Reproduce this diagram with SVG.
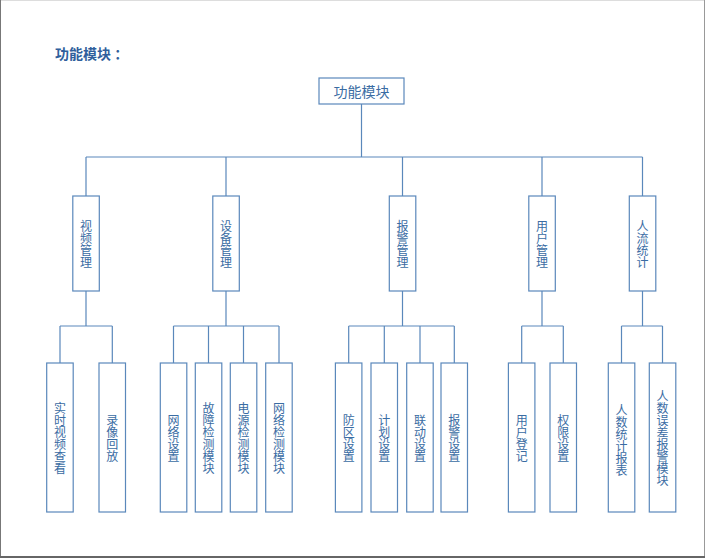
<svg xmlns="http://www.w3.org/2000/svg" width="705" height="558" viewBox="0 0 705 558">
<style>
.box{fill:#fff;stroke:#5a88bb;stroke-width:1.2}
.ln{fill:none;stroke:#5a88bb;stroke-width:1.2}
.t{font-family:"Noto Sans CJK SC","Noto Sans",sans-serif;font-size:12px;fill:#3a6ca3;text-anchor:middle;writing-mode:vertical-rl}
.top{font-family:"Noto Sans CJK SC","Noto Sans",sans-serif;font-size:14px;fill:#3a6ca3;text-anchor:middle;dominant-baseline:central}
.title{font-family:"Noto Sans CJK SC","Noto Sans",sans-serif;font-size:14px;font-weight:bold;fill:#2f5f9c}
</style>
<rect x="0" y="0" width="705" height="558" fill="#fff"/>
<line x1="0" y1="0.5" x2="705" y2="0.5" stroke="#ddd"/>
<line x1="0.5" y1="0" x2="0.5" y2="558" stroke="#777"/>
<line x1="704.5" y1="0" x2="704.5" y2="558" stroke="#999"/>
<line x1="0" y1="557" x2="705" y2="557" stroke="#666" stroke-width="2"/>
<text class="title" x="55" y="59">功能模块 ：</text>

<g id="connectors" class="ln">
<path d="M361.5 104V157M86 157H642.5M86 157V196M226 157V196M402.5 157V196M542 157V196M642.5 157V196"/>
<path d="M86 291V326M60 326H112.3M60 326V363M112.3 326V363"/>
<path d="M226 291V326M173.5 326H279M173.5 326V363M208.5 326V363M243.5 326V363M279 326V363"/>
<path d="M402.5 291V326M348.7 326H454.3M348.7 326V363M384.3 326V363M420 326V363M454.3 326V363"/>
<path d="M542 291V326M521.7 326H563.3M521.7 326V363M563.3 326V363"/>
<path d="M642.5 291V326M621.5 326H662.5M621.5 326V363M662.5 326V363"/>
</g>

<g id="root"><rect class="box" x="319" y="78" width="85" height="26"/><text class="top" x="361.5" y="91">功能模块</text></g>

<g id="m1"><rect class="box" x="72.8" y="196" width="26.5" height="95"/><text class="t" x="86" y="244">视频管理</text></g>
<g id="m2"><rect class="box" x="212.8" y="196" width="26.5" height="95"/><text class="t" x="226" y="244">设备管理</text></g>
<g id="m3"><rect class="box" x="389.3" y="196" width="26.5" height="95"/><text class="t" x="402.5" y="244">报警管理</text></g>
<g id="m4"><rect class="box" x="528.8" y="196" width="26.5" height="95"/><text class="t" x="542" y="244">用户管理</text></g>
<g id="m5"><rect class="box" x="629.3" y="196" width="26.5" height="95"/><text class="t" x="642.5" y="244">人流统计</text></g>

<g id="b1"><rect class="box" x="46.7" y="363" width="26.5" height="149"/><text class="t" x="60" y="438">实时视频查看</text></g>
<g id="b2"><rect class="box" x="99" y="363" width="26.5" height="149"/><text class="t" x="112.3" y="438">录像回放</text></g>
<g id="b3"><rect class="box" x="160.3" y="363" width="26.5" height="149"/><text class="t" x="173.5" y="438">网络设置</text></g>
<g id="b4"><rect class="box" x="195.3" y="363" width="26.5" height="149"/><text class="t" x="208.5" y="438">故障检测模块</text></g>
<g id="b5"><rect class="box" x="230.3" y="363" width="26.5" height="149"/><text class="t" x="243.5" y="438">电源检测模块</text></g>
<g id="b6"><rect class="box" x="265.7" y="363" width="26.5" height="149"/><text class="t" x="279" y="438">网络检测模块</text></g>
<g id="b7"><rect class="box" x="335.4" y="363" width="26.5" height="149"/><text class="t" x="348.7" y="438">防区设置</text></g>
<g id="b8"><rect class="box" x="371" y="363" width="26.5" height="149"/><text class="t" x="384.3" y="438">计划设置</text></g>
<g id="b9"><rect class="box" x="406.7" y="363" width="26.5" height="149"/><text class="t" x="420" y="438">联动设置</text></g>
<g id="b10"><rect class="box" x="441" y="363" width="26.5" height="149"/><text class="t" x="454.3" y="438">报警设置</text></g>
<g id="b11"><rect class="box" x="508.4" y="363" width="26.5" height="149"/><text class="t" x="521.7" y="438">用户登记</text></g>
<g id="b12"><rect class="box" x="550" y="363" width="26.5" height="149"/><text class="t" x="563.3" y="438">权限设置</text></g>
<g id="b13"><rect class="box" x="608.3" y="363" width="26.5" height="149"/><text class="t" x="621.5" y="440">人数统计报表</text></g>
<g id="b14"><rect class="box" x="649.3" y="363" width="26.5" height="149"/><text class="t" x="662.5" y="438">人数误差报警模块</text></g>
</svg>
